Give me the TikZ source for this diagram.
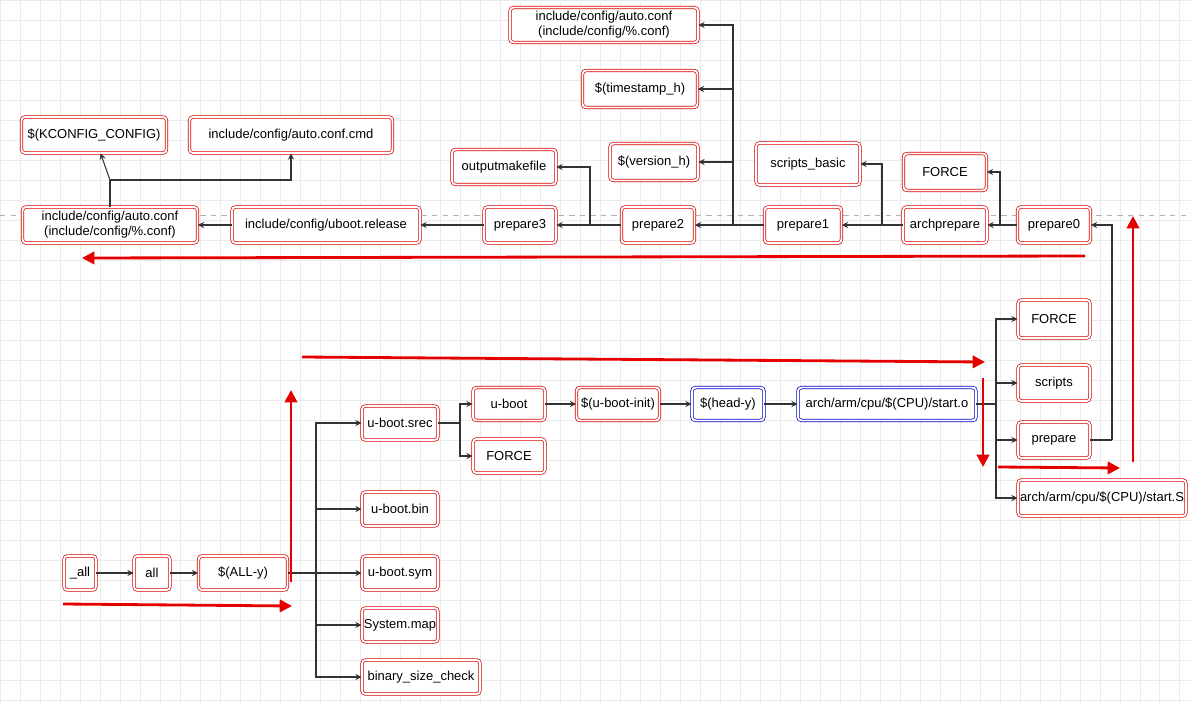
\documentclass[tikz,border=0pt]{standalone}
\usepackage{fontspec}
\setmainfont{Liberation Sans}
\usetikzlibrary{arrows.meta}
\begin{document}
\begin{tikzpicture}[x=0.02cm,y=-0.02cm,
 font=\fontsize{7.4}{8.6}\selectfont,
 bx/.style={draw=red!85!black, double=white, double distance=1.1pt, rounded corners=2pt, align=center, inner sep=1pt, fill=white},
 bl/.style={bx, draw=blue!80!black},
 w/.style={minimum width=#1*0.02cm},
 h/.style={minimum height=#1*0.02cm},
 ar/.style={->, >=stealth, black!80, line width=0.6pt},
 ln/.style={black!80, line width=0.6pt},
 big/.style={-{Triangle[length=7pt,width=7pt]}, red!90!black, line width=1.6pt}]
\useasboundingbox (0,0) rectangle (1191,703);
\fill[white] (0,0) rectangle (1191,703);
\draw[black!8, line width=0.3pt, step=0.4cm] (0,0) grid (1191,703);
\draw[black!30, dashed, line width=0.4pt] (0,215) -- (1191,215);
% nodes
\node[bx,w=32,h=34] (all0) at (80,573) {\_all};
\node[bx,w=36,h=34] (all) at (152,573) {all};
\node[bx,w=89,h=34] (ally) at (243,573) {\$(ALL-y)};
\node[bx,w=76,h=34] (srec) at (400,423) {u-boot.srec};
\node[bx,w=76,h=34] (bin) at (400,509) {u-boot.bin};
\node[bx,w=76,h=34] (sym) at (400,573) {u-boot.sym};
\node[bx,w=76,h=34] (map) at (400,625) {System.map};
\node[bx,w=118,h=34] (bsc) at (421,677) {binary\_size\_check};
\node[bx,w=72,h=33] (uboot) at (509,404) {u-boot};
\node[bx,w=72,h=34] (force1) at (509,456) {FORCE};
\node[bx,w=83,h=33] (init) at (618,404) {\$(u-boot-init)};
\node[bl,w=72,h=33] (head) at (728,404) {\$(head-y)};
\node[bl,w=178,h=33] (starto) at (887,404) {arch/arm/cpu/\$(CPU)/start.o};
\node[bx,w=72,h=38] (force2) at (1054,319) {FORCE};
\node[bx,w=72,h=36] (scripts) at (1054,383) {scripts};
\node[bx,w=72,h=36] (prep) at (1054,440) {prepare};
\node[bx,w=168,h=36] (starts) at (1102,498) {arch/arm/cpu/\$(CPU)/start.S};
\node[bx,w=73,h=36] (p0) at (1054,225) {prepare0};
\node[bx,w=84,h=36] (archp) at (945,225) {archprepare};
\node[bx,w=83,h=37] (force3) at (945,172) {FORCE};
\node[bx,w=77,h=36] (p1) at (803,225) {prepare1};
\node[bx,w=104,h=42] (sb) at (808,164) {scripts\_basic};
\node[bx,w=73,h=36] (p2) at (658,225) {prepare2};
\node[bx,w=88,h=37] (vh) at (654,162) {\$(version\_h)};
\node[bx,w=115,h=37] (th) at (640,89) {\$(timestamp\_h)};
\node[bx,w=188,h=35] (acTop) at (604,25) {include/config/auto.conf\\(include/config/\%.conf)};
\node[bx,w=72,h=36] (p3) at (520,225) {prepare3};
\node[bx,w=104,h=35] (omf) at (504,167) {outputmakefile};
\node[bx,w=188,h=36] (rel) at (326,225) {include/config/uboot.release};
\node[bx,w=175,h=36] (acL) at (110,225) {include/config/auto.conf\\(include/config/\%.conf)};
\node[bx,w=145,h=36] (kc) at (94,135) {\$(KCONFIG\_CONFIG)};
\node[bx,w=203,h=36] (acc) at (291,135) {include/config/auto.conf.cmd};
\coordinate (t1) at (316,573);
\coordinate (t2) at (460,423);
\coordinate (t3) at (996,404);
\coordinate (t4) at (1112,440);
\coordinate (t5) at (1000,225);
\coordinate (t6) at (882,225);
\coordinate (t7) at (733,225);
\coordinate (t8) at (590,225);
\coordinate (t9) at (110,180);
% connectors
\draw[ar] (all0) -- (all);
\draw[ar] (all) -- (ally);
\draw[ln] (ally) -- (t1);
\foreach \n in {srec,bin,sym,map,bsc} \draw[ar] (t1) |- (\n.west);
\draw[ln] (srec) -- (t2);
\draw[ar] (t2) |- (uboot.west);
\draw[ar] (t2) |- (force1.west);
\draw[ar] (uboot) -- (init);
\draw[ar] (init) -- (head);
\draw[ar] (head) -- (starto);
\draw[ln] (starto) -- (t3);
\foreach \n in {force2,scripts,prep,starts} \draw[ar] (t3) |- (\n.west);
\draw[ln] (prep) -- (t4);
\draw[ar] (t4) |- (p0.east);
\draw[ar] (p0) -- (archp);
\draw[ar] (t5) |- (force3.east);
\draw[ar] (archp) -- (p1);
\draw[ar] (t6) |- (sb.east);
\draw[ar] (p1) -- (p2);
\foreach \n in {vh,th,acTop} \draw[ar] (t7) |- (\n.east);
\draw[ar] (p2) -- (p3);
\draw[ar] (t8) |- (omf.east);
\draw[ar] (p3) -- (rel);
\draw[ar] (rel) -- (acL);
\draw[ln] (acL) -- (t9);
\draw[ar] (t9) -- (kc);
\draw[ar] (t9) -| (acc.south);
% red arrows
\coordinate (r1a) at (1085,256); \coordinate (r1b) at (82,258);
\coordinate (r2a) at (63,604); \coordinate (r2b) at (292,606);
\coordinate (r3a) at (291,582); \coordinate (r3b) at (291,390);
\coordinate (r4a) at (302,357); \coordinate (r4b) at (985,362);
\coordinate (r5a) at (983,378); \coordinate (r5b) at (983,467);
\coordinate (r6a) at (998,467); \coordinate (r6b) at (1120,468);
\coordinate (r7a) at (1133,462); \coordinate (r7b) at (1133,216);
\foreach \i in {1,...,7} \draw[big] (r\i a) -- (r\i b);
\end{tikzpicture}
\end{document}
